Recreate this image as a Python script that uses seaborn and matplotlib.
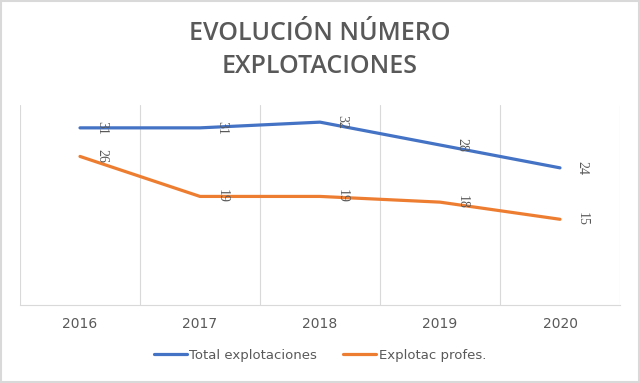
import numpy as np
import matplotlib
matplotlib.use("Agg")
import matplotlib.pyplot as plt
import pandas as pd
import seaborn as sns

# values
years = [2016, 2017, 2018, 2019, 2020]
total_explotaciones = [31, 31, 32, 28, 24]
explotac_profes = [26, 19, 19, 18, 15]
series_names = ["Total explotaciones", "Explotac profes."]
title = "EVOLUCIÓN NÚMERO\nEXPLOTACIONES"

colors = {"Total explotaciones": "#4472C4", "Explotac profes.": "#ED7D31"}
grey = "#595959"

df = pd.DataFrame({
    "year": years * 2,
    "value": total_explotaciones + explotac_profes,
    "serie": [series_names[0]] * len(years) + [series_names[1]] * len(years),
})

sns.set_style("white")
plt.rcParams['font.family'] = ['DejaVu Sans']

fig = plt.figure(figsize=(6.4, 3.83), dpi=100)
ax = fig.add_axes([20 / 640, 1 - 305 / 383, 600 / 640, 200 / 383])

sns.lineplot(data=df, x="year", y="value", hue="serie", palette=colors,
             linewidth=2.3, ax=ax, legend=False)

# data labels, rotated, right of each point
for name, vals in zip(series_names, [total_explotaciones, explotac_profes]):
    for x, v in zip(years, vals):
        ax.annotate(str(v), (x, v), xytext=(16, 0), textcoords="offset points",
                    rotation=270, ha="center", va="center", fontsize=10,
                    color=grey, family="Liberation Serif")

ax.set_xlim(years[0] - 0.5, years[-1] + 0.5)
ax.set_ylim(0, 35)
ax.set_yticks([])
ax.set_xticks(years)
ax.set_xticklabels([str(y) for y in years], fontsize=10, color=grey)
ax.tick_params(axis="x", length=0, pad=9)
ax.set_xlabel("")
ax.set_ylabel("")

# vertical gridlines between categories
for b in np.arange(years[0] - 0.5, years[-1] + 1, 1.0):
    ax.axvline(b, color="#D9D9D9", linewidth=0.8, zorder=0)
for s in ["top", "left", "right"]:
    ax.spines[s].set_visible(False)
ax.spines["bottom"].set_color("#D9D9D9")
ax.spines["bottom"].set_linewidth(0.8)

fig.text(0.5, 1 - 50 / 383, title, ha="center", va="center", fontsize=18,
         color=grey, linespacing=1.4, family="Open Sans", weight="semibold")

handles = [plt.Line2D([], [], color=colors[n], linewidth=2.3) for n in series_names]
fig.legend(handles, series_names, loc="center", bbox_to_anchor=(0.5, 1 - 355 / 383),
           ncol=2, frameon=False, fontsize=9.5, labelcolor=grey,
           handlelength=2.5, handletextpad=0.2, columnspacing=2.0)

fig.patches.append(plt.Rectangle((0.002, 0.003), 0.996, 0.994, transform=fig.transFigure,
                                 fill=False, edgecolor="#D9D9D9", linewidth=1.5))

fig.savefig("out.png", dpi=100, facecolor="white")
